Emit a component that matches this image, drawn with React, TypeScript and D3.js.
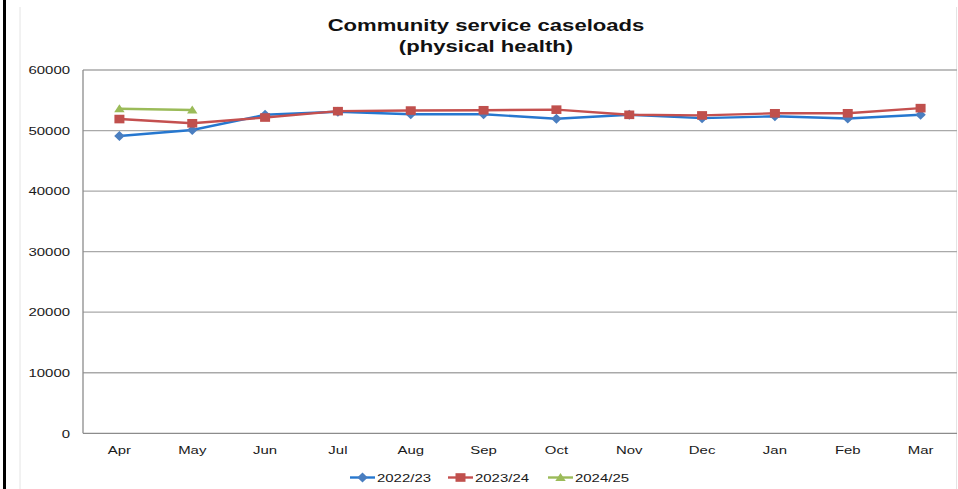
import React from "react";
import * as d3 from "d3";

const months = ["Apr", "May", "Jun", "Jul", "Aug", "Sep", "Oct", "Nov", "Dec", "Jan", "Feb", "Mar"];
const s2022: (number | null)[] = [49100, 50100, 52600, 53100, 52700, 52700, 51950, 52600, 52050, 52350, 52000, 52600];
const s2023: (number | null)[] = [51900, 51200, 52150, 53200, 53300, 53350, 53450, 52600, 52500, 52850, 52850, 53700];
const s2024: (number | null)[] = [53600, 53400, null, null, null, null, null, null, null, null, null, null];
const seriesNames = ["2022/23", "2023/24", "2024/25"];
const yTicks = [0, 10000, 20000, 30000, 40000, 50000, 60000];
const titleLines = ["Community service caseloads", "(physical health)"];

const W = 958;
const H = 489;
const FONT = "'Liberation Sans', Arial, Helvetica, sans-serif";
const SX = 1.3;

const seriesStyles = [
  { line: "#2677cf", marker: "#4a7ec0", shape: "diamond" },
  { line: "#c4504f", marker: "#c0504d", shape: "square" },
  { line: "#9bbb59", marker: "#9bbb59", shape: "triangle" },
];

function Marker({ shape, x, y, color }: { shape: string; x: number; y: number; color: string }) {
  if (shape === "square") return <rect x={x - 5} y={y - 4.3} width={10} height={8.6} fill={color} />;
  if (shape === "diamond")
    return <path d={`M${x},${y - 5} L${x + 5.2},${y} L${x},${y + 5} L${x - 5.2},${y} Z`} fill={color} />;
  return <path d={`M${x},${y - 4.5} L${x + 5.2},${y + 3.5} L${x - 5.2},${y + 3.5} Z`} fill={color} />;
}

function SText({ x, y, anchor, size, weight, children, fill }: any) {
  return (
    <text
      transform={`translate(${x},${y}) scale(${SX},1)`}
      textAnchor={anchor}
      fontSize={size}
      fontWeight={weight || "normal"}
      fill={fill || "#1a1a1a"}
      fontFamily={FONT}
    >
      {children}
    </text>
  );
}

export default function App() {
  const x = d3.scaleBand<string>().domain(months).range([83, 957]).padding(0);
  const y = d3.scaleLinear().domain([0, 60000]).range([433.3, 70]);
  const cx = (m: string) => (x(m) as number) + x.bandwidth() / 2;
  const allSeries = [s2022, s2023, s2024];
  const line = d3
    .line<number | null>()
    .defined((d) => d !== null)
    .x((_, i) => cx(months[i]))
    .y((d) => y(d as number));

  const legendItems = [
    { lx: 350, tx: 377 },
    { lx: 448, tx: 475 },
    { lx: 548, tx: 575 },
  ];

  return (
    <svg
      width={W}
      height={H}
      style={{ position: "fixed", left: 0, top: 0, background: "#fff" }}
    >
      <rect x={0} y={0} width={W} height={H} fill="#fff" />
      <rect x={3} y={0} width={3} height={H} fill="#000" />
      <line x1={20} y1={7} x2={20} y2={H} stroke="#e4e4e4" strokeWidth={1} />
      <line x1={956.5} y1={7} x2={956.5} y2={H} stroke="#e4e4e4" strokeWidth={1} />

      {titleLines.map((t, i) => (
        <SText key={t} x={486} y={31 + i * 20.5} anchor="middle" size={17} weight="bold" fill="#111">
          {t}
        </SText>
      ))}

      {yTicks.map((t) => (
        <g key={t}>
          <line x1={83} x2={957} y1={y(t)} y2={y(t)} stroke={t === 0 ? "#8c8c8c" : "#a9a9a9"} strokeWidth={1.3} />
          <SText x={70} y={y(t) + 4.2} anchor="end" size={11.5}>
            {t}
          </SText>
        </g>
      ))}
      <line x1={83} x2={83} y1={y(60000)} y2={y(0)} stroke="#8c8c8c" strokeWidth={1.3} />

      {months.map((m) => (
        <SText key={m} x={cx(m)} y={453.5} anchor="middle" size={11.5}>
          {m}
        </SText>
      ))}

      {allSeries.map((s, si) => (
        <g key={si}>
          <path d={line(s) || ""} fill="none" stroke={seriesStyles[si].line} strokeWidth={2.4} />
          {s.map((v, i) =>
            v === null ? null : (
              <Marker key={i} shape={seriesStyles[si].shape} x={cx(months[i])} y={y(v)} color={seriesStyles[si].marker} />
            )
          )}
        </g>
      ))}

      {seriesNames.map((n, i) => (
        <g key={n}>
          <line x1={legendItems[i].lx} x2={legendItems[i].lx + 25} y1={477.5} y2={477.5} stroke={seriesStyles[i].line} strokeWidth={2.4} />
          <Marker shape={seriesStyles[i].shape} x={legendItems[i].lx + 12.5} y={477.5} color={seriesStyles[i].marker} />
          <SText x={legendItems[i].tx} y={481.8} anchor="start" size={11.5}>
            {n}
          </SText>
        </g>
      ))}
    </svg>
  );
}
